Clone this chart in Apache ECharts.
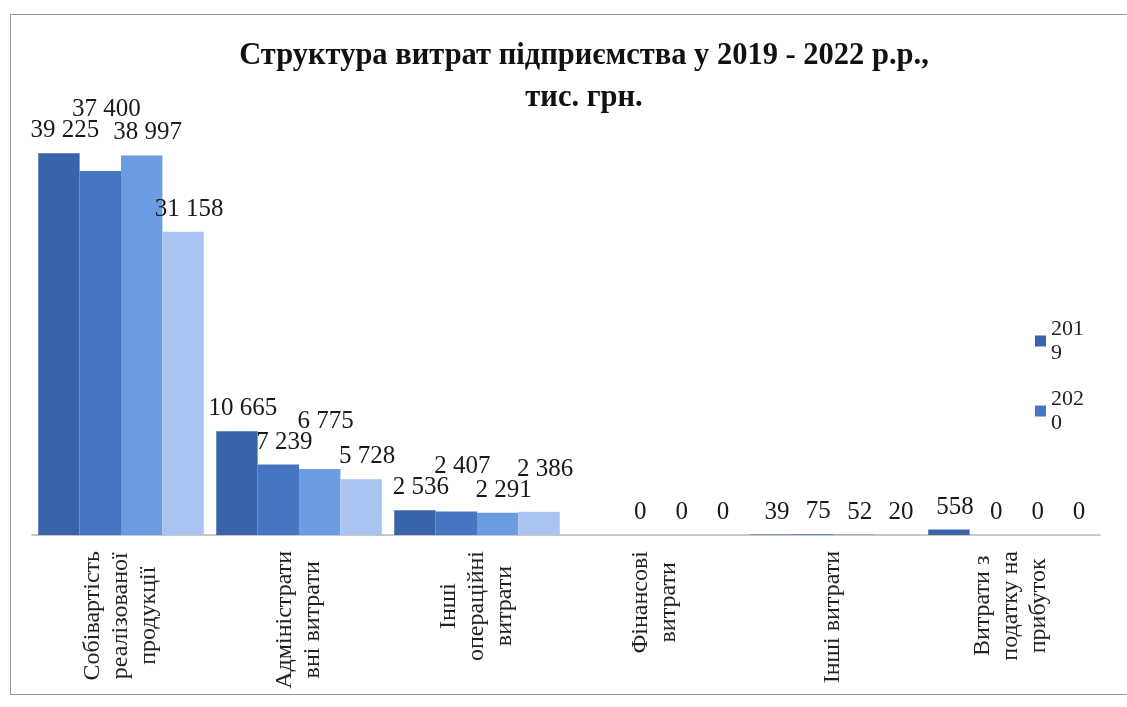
<!DOCTYPE html>
<html>
<head>
<meta charset="utf-8">
<script src="https://cdn.jsdelivr.net/npm/echarts@6/dist/echarts.min.js"></script>
<style>
html,body{margin:0;padding:0;background:#fff;width:1127px;height:707px;overflow:hidden;}
#frame{position:absolute;left:10px;top:14px;width:1200px;height:681px;border:1px solid #9a9a9a;box-sizing:border-box;}
#chart{position:absolute;left:0;top:0;width:1127px;height:707px;}
</style>
</head>
<body>
<div id="frame"></div>
<div id="chart"></div>
<script>
const categories = [
  'Собівартість\nреалізованої\nпродукції',
  'Адміністрати\nвні витрати',
  'Інші\nопераційні\nвитрати',
  'Фінансові\nвитрати',
  'Інші витрати',
  'Витрати з\nподатку на\nприбуток'
];
const seriesNames = ['2019', '2020', '2021', '2022'];
const values2019 = [39225, 10665, 2536, null, 39, 558];
const values2020 = [37400, 7239, 2407, 0, 75, 0];
const values2021 = [38997, 6775, 2291, 0, 52, 0];
const values2022 = [31158, 5728, 2386, 0, 20, 0];
const legendNames = ['2019', '2020'];

const colors = ['#3a64a9', '#4676c2', '#6b9be0', '#aac4f2'];
const allValues = [values2019, values2020, values2021, values2022];
const serif = '"Liberation Serif", "DejaVu Serif", serif';

function fmt(v) {
  return String(v).replace(/\B(?=(\d{3})+(?!\d))/g, ' ');
}

// simple overlap resolver: a label that collides with an already placed
// label of an earlier series in the same category is lifted above it
const placed = {};
function resolveLabel(p) {
  const r = p.labelRect;
  const dx = 6;
  let x = r.x + dx, y = r.y;
  const w = r.width, h = r.height;
  let moved = true;
  let guard = 0;
  while (moved && guard < 10) {
    moved = false; guard++;
    for (let s = 0; s < p.seriesIndex; s++) {
      const o = placed[s + '-' + p.dataIndex];
      if (!o) continue;
      const hx = x < o.x + o.w - 2 && o.x < x + w - 2;
      const vy = y < o.y + o.h - 4 && o.y < y + h - 4;
      if (hx && vy) { y = o.y - h + 4; moved = true; }
    }
  }
  placed[p.seriesIndex + '-' + p.dataIndex] = { x: x, y: y, w: w, h: h };
  return { dx: dx, dy: y - r.y };
}

const chart = echarts.init(document.getElementById('chart'));
chart.setOption({
  animation: false,
  backgroundColor: 'transparent',
  color: colors,
  title: {
    text: 'Структура витрат підприємства у 2019 - 2022 р.р.,\nтис. грн.',
    left: 579,
    top: 30,
    textAlign: 'center',
    textStyle: {
      fontFamily: serif,
      fontWeight: 'bold',
      fontSize: 30.5,
      lineHeight: 42,
      color: '#111'
    }
  },
  legend: {
    data: legendNames,
    orient: 'vertical',
    left: 1030,
    top: 312,
    itemWidth: 11,
    itemHeight: 11,
    itemGap: 22,
    icon: 'rect',
    formatter: function (n) { return n.slice(0, 3) + '\n' + n.slice(3); },
    textStyle: {
      fontFamily: serif,
      fontSize: 22,
      lineHeight: 24,
      color: '#222'
    }
  },
  grid: {
    left: 32,
    right: 27,
    top: 97,
    bottom: 172,
    containLabel: false
  },
  xAxis: {
    type: 'category',
    data: categories,
    axisLine: { lineStyle: { color: '#b5b5b5', width: 1.5 } },
    axisTick: { show: false },
    axisLabel: {
      interval: 0,
      rotate: 90,
      margin: 16,
      fontFamily: serif,
      fontSize: 24,
      lineHeight: 28,
      color: '#222',
      formatter: function (v) {
        return v.split('\n').map(function (s) { return '{c|' + s + '}'; }).join('\n');
      },
      rich: {
        c: { align: 'center', fontFamily: serif, fontSize: 24, lineHeight: 28, color: '#222' }
      }
    }
  },
  yAxis: {
    type: 'value',
    min: 0,
    max: 45000,
    show: false,
    splitLine: { show: false }
  },
  series: seriesNames.map(function (name, i) {
    return {
      name: name,
      type: 'bar',
      data: allValues[i],
      barGap: '0%',
      barCategoryGap: '7%',
      itemStyle: { color: colors[i] },
      labelLayout: resolveLabel,
      label: {
        show: true,
        position: 'top',
        distance: 10,
        fontFamily: serif,
        fontSize: 25,
        color: '#1a1a1a',
        formatter: function (p) { return fmt(p.value); }
      }
    };
  })
});
</script>
</body>
</html>
